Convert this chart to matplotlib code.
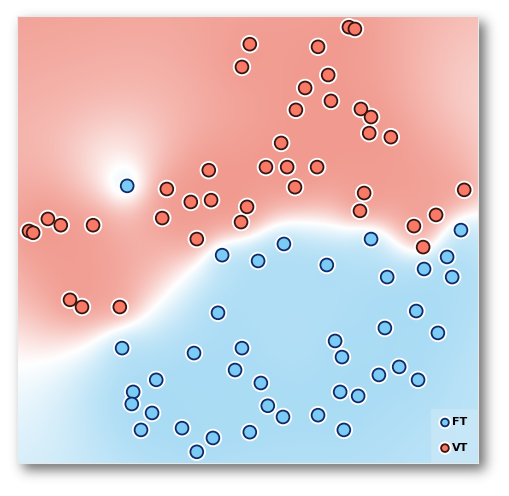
import numpy as np
import matplotlib
matplotlib.use("Agg")
import matplotlib.pyplot as plt
import matplotlib.patheffects as pe
from matplotlib.colors import LinearSegmentedColormap

# ---- data (0-100 scale) ----
vt_x = [72.0, 73.3, 50.5, 65.3, 48.8, 67.5, 62.5, 68.1, 60.5, 74.6, 76.8, 76.4, 81.1, 57.3,
        41.6, 54.0, 58.6, 65.1, 32.5, 60.3, 75.3, 97.0, 37.7, 42.1, 49.9, 74.4, 90.9, 31.5,
        48.6, 86.1, 88.1, 39.0, 6.7, 9.5, 16.5, 2.6, 3.5, 11.5, 14.1, 22.3]
vt_y = [97.5, 97.1, 93.7, 93.1, 88.6, 86.8, 83.9, 81.0, 79.0, 79.2, 77.4, 73.8, 72.9, 71.6,
        65.5, 66.2, 66.2, 66.2, 61.3, 61.7, 60.4, 61.1, 58.4, 58.8, 57.3, 56.4, 55.5, 54.8,
        53.9, 53.0, 48.3, 50.1, 54.6, 53.2, 53.2, 51.9, 51.5, 36.5, 34.9, 34.9]
ft_x = [23.9, 57.9, 76.8, 96.3, 44.5, 52.3, 43.6, 22.8, 38.4, 48.8, 47.3, 30.2, 25.2, 24.9,
        29.3, 26.9, 35.8, 42.5, 39.0, 50.5, 52.9, 93.3, 67.2, 88.3, 80.3, 94.4, 86.6, 79.8,
        91.3, 69.0, 70.5, 82.9, 78.5, 87.0, 70.1, 74.0, 54.4, 57.7, 65.3, 70.9]
ft_y = [62.0, 49.0, 50.1, 52.1, 46.5, 45.2, 33.6, 25.7, 24.6, 25.7, 20.8, 18.6, 15.9, 13.2,
        11.2, 7.4, 7.8, 5.6, 2.5, 6.9, 17.9, 46.1, 44.3, 43.4, 41.6, 41.6, 34.0, 30.2,
        29.1, 27.3, 23.7, 21.5, 19.7, 18.6, 15.9, 15.0, 12.8, 10.3, 10.7, 7.4]
labels = ["FT", "VT"]

W, H = 510, 496
fig = plt.figure(figsize=(W / 100, H / 100), dpi=100)
fig.patch.set_facecolor("white")

ax_l, ax_r, ax_t, ax_b = 17, 478, 16, 463

# ---- drop shadow (decoration) ----
sh = fig.add_axes([0, 0, 1, 1], zorder=0)
sh.set_axis_off()
yy, xx = np.mgrid[0:H, 0:W]
off = 6
mask = ((xx >= ax_l + off) & (xx <= ax_r + off) & (yy >= ax_t + off) & (yy <= ax_b + off)).astype(float)
k = np.exp(-0.5 * (np.arange(-20, 21) / 6.0) ** 2)
k /= k.sum()
blur = np.apply_along_axis(lambda r: np.convolve(r, k, mode="same"), 1, mask)
blur = np.apply_along_axis(lambda c: np.convolve(c, k, mode="same"), 0, blur)
rgba = np.zeros((H, W, 4))
rgba[..., :3] = 0.25
rgba[..., 3] = blur * 0.75
sh.imshow(rgba, extent=[0, W, H, 0], aspect="auto")
sh.set_xlim(0, W)
sh.set_ylim(H, 0)

# ---- main axes ----
ax = fig.add_axes([ax_l / W, (H - ax_b) / H, (ax_r - ax_l) / W, (ax_b - ax_t) / H], zorder=1)

px = np.array(vt_x + ft_x)
py = np.array(vt_y + ft_y)
lab = np.array([1.0] * len(vt_x) + [-1.0] * len(ft_x))


def kern(d2):
    return 0.7 * np.exp(-d2 / (2 * 10.0 ** 2)) + 0.3 * np.exp(-d2 / (2 * 3.5 ** 2))


# decision surface: damped linear trend + GP regression on residuals
A = np.column_stack([np.ones_like(px), px, py])
coef, *_ = np.linalg.lstsq(A, lab, rcond=None)
prior_scale = 0.3
res = lab - prior_scale * (A @ coef)
noise = 1.0
D2 = (px[:, None] - px[None, :]) ** 2 + (py[:, None] - py[None, :]) ** 2
alpha = np.linalg.solve(kern(D2) + noise * np.eye(len(px)), res)

gx, gy = np.meshgrid(np.linspace(0, 100, 300), np.linspace(0, 100, 300))
g = prior_scale * (coef[0] + coef[1] * gx + coef[2] * gy)
for x0, y0, a0 in zip(px, py, alpha):
    g += a0 * kern((gx - x0) ** 2 + (gy - y0) ** 2)
f = np.tanh(1.7 * g)

cmap = LinearSegmentedColormap.from_list("bwr_soft", ["#a3d9f4", "#ffffff", "#f09286"])
ax.imshow(f, extent=[0, 100, 0, 100], origin="lower", cmap=cmap, vmin=-1, vmax=1,
          interpolation="bilinear", aspect="auto")

halo = [pe.Stroke(linewidth=4, foreground="white"), pe.Normal()]
s1 = ax.scatter(ft_x, ft_y, s=85, c="#7ccbf5", edgecolors="#0d2a6b", linewidths=1.3,
                label=labels[0], zorder=3)
s1.set_path_effects(halo)
s2 = ax.scatter(vt_x, vt_y, s=85, c="#f87a66", edgecolors="#3a1410", linewidths=1.3,
                label=labels[1], zorder=3)
s2.set_path_effects(halo)

ax.set_xlim(0, 100)
ax.set_ylim(0, 100)
ax.set_xticks([])
ax.set_yticks([])
for s in ax.spines.values():
    s.set_linewidth(0.8)
    s.set_color("#e8e8e8")

leg = ax.legend(loc="lower right", frameon=True, fancybox=False, markerscale=0.6,
                handletextpad=0.1, labelspacing=1.4, borderpad=0.8, handlelength=1.0,
                borderaxespad=0.1, prop={"weight": "bold", "size": 8})
leg.get_frame().set_facecolor("#ffffff")
leg.get_frame().set_alpha(0.2)
leg.get_frame().set_edgecolor("#d8eef8")

fig.savefig("out.png", dpi=100)
